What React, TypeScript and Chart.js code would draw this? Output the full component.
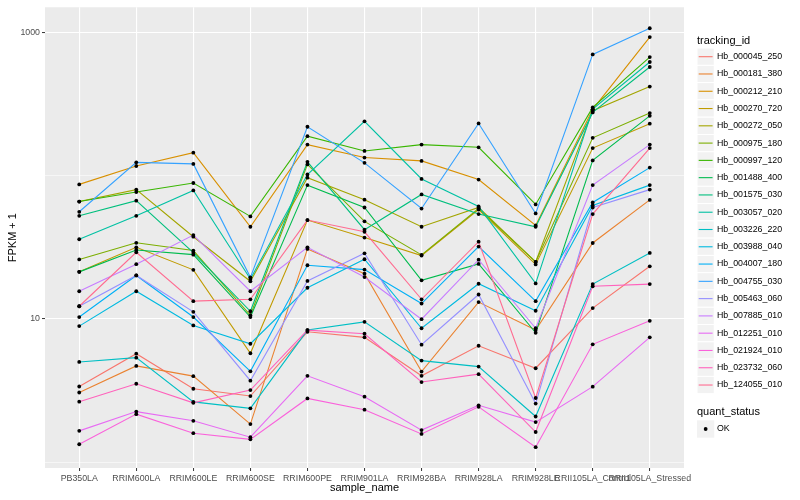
import React, { useEffect, useRef } from "react";
import { Chart, registerables } from "chart.js";

Chart.register(...registerables);

const categories = [
  "PB350LA",
  "RRIM600LA",
  "RRIM600LE",
  "RRIM600SE",
  "RRIM600PE",
  "RRIM901LA",
  "RRIM928BA",
  "RRIM928LA",
  "RRIM928LE",
  "RRII105LA_Control",
  "RRII105LA_Stressed",
];

const yTickValues = [1, 10, 100, 1000];
const yTickLabels = ["", "10", "", "1000"];

const s000045_250 = [3.37, 5.71, 3.25, 2.89, 8.12, 7.43, 4.0, 6.49, 4.52, 11.9, 23.3];
const s000181_380 = [3.06, 4.69, 3.98, 1.84, 30.8, 20.7, 4.28, 13.1, 8.35, 33.9, 67.8];
const s000212_210 = [87, 117, 145, 44, 165, 134, 127, 94, 45, 291, 930];
const s000270_720 = [21.3, 31.6, 22, 5.75, 49, 37, 27.7, 58, 24, 156, 231];
const s000272_050 = [66, 80, 37.5, 18.3, 97, 68, 44, 60, 25, 285, 420];
const s000975_180 = [26, 34, 30, 10.6, 120, 48, 28, 59, 25, 184, 274];
const s000997_120 = [66, 77, 89, 52, 189, 149, 165, 158, 63, 300, 675];
const s001488_400 = [21.3, 30.3, 28.1, 10.3, 86, 60, 18.6, 24.2, 8.0, 128, 262];
const s001575_030 = [52.5, 67, 29, 11.3, 125, 42, 74, 54, 44, 277, 575];
const s003057_020 = [36, 52.5, 79, 19, 102, 240, 95, 61, 17.7, 292, 623];
const s003226_220 = [5.0, 5.36, 2.63, 2.37, 8.35, 9.53, 5.11, 4.64, 2.08, 17.5, 28.9];
const s003988_040 = [8.9, 15.6, 9.0, 6.7, 16.5, 26.1, 8.6, 17.6, 11.4, 62, 86];
const s004007_180 = [10.3, 20.1, 10.3, 4.3, 23.7, 22.1, 12.8, 32, 13.3, 65, 114];
const s004755_030 = [56, 124, 121, 19.5, 220, 123, 59, 232, 54.5, 704, 1073];
const s005463_060 = [12.25, 20.1, 11.2, 3.7, 18.4, 28.7, 6.6, 14.8, 2.56, 60, 80];
const s007885_010 = [15.6, 24.1, 38.5, 15.6, 31.6, 19.6, 9.95, 25.9, 8.6, 86, 165];
const s012251_010 = [1.65, 2.25, 1.94, 1.49, 4.0, 2.86, 1.67, 2.49, 1.9, 3.36, 7.43];
const s021924_010 = [1.33, 2.16, 1.59, 1.44, 2.78, 2.32, 1.57, 2.43, 1.27, 6.64, 9.69];
const s023732_060 = [2.64, 3.52, 2.59, 3.18, 8.35, 7.87, 3.62, 4.11, 1.62, 16.9, 17.5];
const s124055_010 = [12.25, 29.2, 13.3, 13.7, 49, 40.6, 13.7, 34.6, 2.8, 54, 156];

const seriesNames = [
  "Hb_000045_250",
  "Hb_000181_380",
  "Hb_000212_210",
  "Hb_000270_720",
  "Hb_000272_050",
  "Hb_000975_180",
  "Hb_000997_120",
  "Hb_001488_400",
  "Hb_001575_030",
  "Hb_003057_020",
  "Hb_003226_220",
  "Hb_003988_040",
  "Hb_004007_180",
  "Hb_004755_030",
  "Hb_005463_060",
  "Hb_007885_010",
  "Hb_012251_010",
  "Hb_021924_010",
  "Hb_023732_060",
  "Hb_124055_010",
];

const seriesValues = [
  s000045_250, s000181_380, s000212_210, s000270_720, s000272_050,
  s000975_180, s000997_120, s001488_400, s001575_030, s003057_020,
  s003226_220, s003988_040, s004007_180, s004755_030, s005463_060,
  s007885_010, s012251_010, s021924_010, s023732_060, s124055_010,
];

const seriesColors = [
  "#F8766D", "#EA8331", "#D89000", "#C09B00", "#A3A500",
  "#7CAE00", "#39B600", "#00BB4E", "#00BF7D", "#00C1A3",
  "#00BFC4", "#00BAE0", "#00B0F6", "#35A2FF", "#9590FF",
  "#C77CFF", "#E76BF3", "#FA62DB", "#FF62BC", "#FF6C91",
];

const statusLabels = ["OK"];

const FONT = '"Liberation Sans", Arial, Helvetica, sans-serif';

const decorPlugin = {
  id: "ggDecor",
  beforeDraw(chart: any) {
    const { ctx, chartArea: a } = chart;
    ctx.save();
    ctx.fillStyle = "#FFFFFF";
    ctx.fillRect(0, 0, chart.width, chart.height);
    ctx.fillStyle = "#EBEBEB";
    ctx.fillRect(a.left, a.top, a.right - a.left, a.bottom - a.top);
    ctx.restore();
  },
  afterDraw(chart: any) {
    const { ctx, chartArea: a } = chart;
    ctx.save();
    // axis titles
    ctx.fillStyle = "#000000";
    ctx.font = `11px ${FONT}`;
    ctx.textAlign = "center";
    ctx.textBaseline = "middle";
    ctx.fillText("sample_name", (a.left + a.right) / 2, 488);
    ctx.save();
    ctx.translate(13, (a.top + a.bottom) / 2);
    ctx.rotate(-Math.PI / 2);
    ctx.fillText("FPKM + 1", 0, 0);
    ctx.restore();

    // legend: tracking_id
    const kx = 697;
    const ks = 17.28;
    ctx.textAlign = "left";
    ctx.font = `11px ${FONT}`;
    ctx.fillText("tracking_id", kx, 41);
    seriesNames.forEach((name, i) => {
      const cy = 56.7 + i * ks;
      ctx.fillStyle = "#F2F2F2";
      ctx.fillRect(kx, cy - ks / 2, ks, ks);
      ctx.strokeStyle = "#FFFFFF";
      ctx.lineWidth = 1;
      ctx.strokeRect(kx, cy - ks / 2, ks, ks);
      ctx.strokeStyle = seriesColors[i];
      ctx.lineWidth = 1.1;
      ctx.beginPath();
      ctx.moveTo(kx + 1.7, cy);
      ctx.lineTo(kx + ks - 1.7, cy);
      ctx.stroke();
      ctx.fillStyle = "#000000";
      ctx.font = `8.8px ${FONT}`;
      ctx.fillText(name, 717, cy);
    });

    // legend: quant_status
    ctx.font = `11px ${FONT}`;
    ctx.fillStyle = "#000000";
    ctx.fillText("quant_status", kx, 412.3);
    statusLabels.forEach((lab, i) => {
      const cy = 429 + i * ks;
      ctx.fillStyle = "#F2F2F2";
      ctx.fillRect(kx, cy - ks / 2, ks, ks);
      ctx.fillStyle = "#000000";
      ctx.beginPath();
      ctx.arc(kx + ks / 2, cy, 1.9, 0, Math.PI * 2);
      ctx.fill();
      ctx.font = `8.8px ${FONT}`;
      ctx.fillText(lab, 717, cy);
    });
    ctx.restore();
  },
};

export default function App() {
  const ref = useRef<HTMLCanvasElement | null>(null);

  useEffect(() => {
    document.body.style.margin = "0";
    const canvas = ref.current;
    if (!canvas) return;

    const lineSets = seriesValues.map((vals, i) => ({
      label: seriesNames[i],
      data: vals.map((v, j) => ({ x: j, y: v })),
      borderColor: seriesColors[i],
      backgroundColor: seriesColors[i],
      borderWidth: 1.1,
      pointRadius: 0,
      fill: false,
      tension: 0,
      order: -i,
    }));
    const pointSets = seriesValues.map((vals, i) => ({
      label: seriesNames[i] + " pts",
      data: vals.map((v, j) => ({ x: j, y: v })),
      showLine: false,
      pointRadius: 1.9,
      pointBackgroundColor: "#000000",
      pointBorderWidth: 0,
      borderColor: "#000000",
      order: -100,
    }));

    const isMajor = (ctx: any) => {
      const v = ctx.tick ? ctx.tick.value : null;
      return v === 10 || v === 1000;
    };

    const chart = new Chart(canvas, {
      type: "line",
      data: { datasets: [...lineSets, ...pointSets] as any },
      options: {
        animation: false,
        responsive: false,
        devicePixelRatio: 1,
        layout: { padding: { top: 5, right: 116, left: 0, bottom: 0 } },
        plugins: {
          legend: { display: false },
          tooltip: { enabled: false },
        },
        scales: {
          x: {
            type: "linear",
            min: -0.6,
            max: 10.6,
            afterBuildTicks: (scale: any) => {
              scale.ticks = categories.map((_, i) => ({ value: i }));
            },
            afterFit: (scale: any) => {
              scale.height = 32;
            },
            border: { display: false },
            grid: {
              color: "#FFFFFF",
              lineWidth: 1.1,
              tickColor: "#333333",
              tickLength: 3,
              tickWidth: 1,
            },
            ticks: {
              autoSkip: false,
              maxRotation: 0,
              minRotation: 0,
              padding: 2,
              color: "#4D4D4D",
              font: { size: 8.8, family: FONT },
              callback: (v: any) => categories[Math.round(Number(v))] ?? "",
            },
          },
          y: {
            type: "logarithmic",
            min: 0.908,
            max: 1503,
            afterBuildTicks: (scale: any) => {
              scale.ticks = yTickValues.map((v) => ({ value: v }));
            },
            afterFit: (scale: any) => {
              scale.width = 45;
            },
            border: { display: false },
            grid: {
              color: "#FFFFFF",
              lineWidth: (ctx: any) => (isMajor(ctx) ? 1.1 : 0.55),
              tickColor: (ctx: any) => (isMajor(ctx) ? "#333333" : "rgba(0,0,0,0)"),
              tickLength: 3,
              tickWidth: 1,
            },
            ticks: {
              autoSkip: false,
              padding: 2,
              color: "#4D4D4D",
              font: { size: 8.8, family: FONT },
              callback: (v: any) => {
                const idx = yTickValues.indexOf(Number(v));
                return idx >= 0 ? yTickLabels[idx] : "";
              },
            },
          },
        },
      } as any,
      plugins: [decorPlugin],
    });

    return () => chart.destroy();
  }, []);

  return (
    <canvas
      ref={ref}
      width={800}
      height={500}
      style={{ display: "block", width: 800, height: 500 }}
    />
  );
}
